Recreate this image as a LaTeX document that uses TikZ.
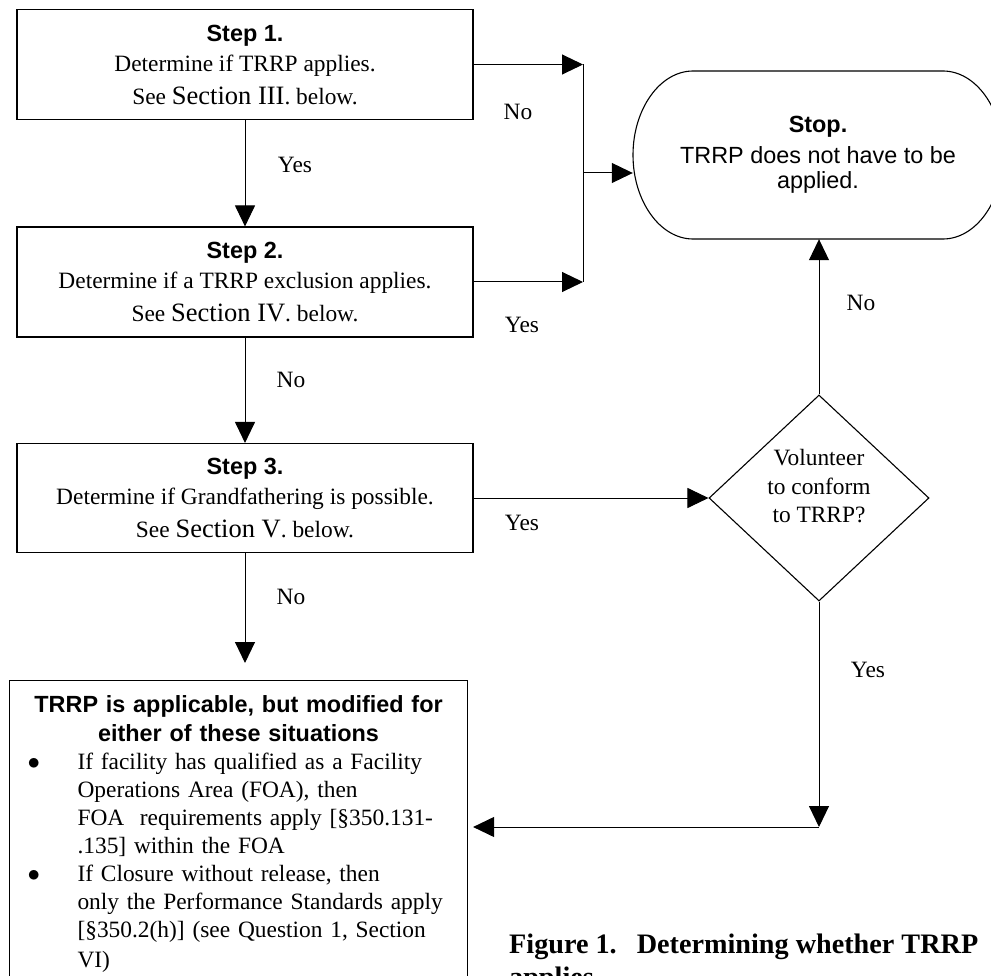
\documentclass[tikz,border=0pt]{standalone}
\usepackage{fontspec}
\setmainfont{Liberation Serif}
\setsansfont{Liberation Sans}
\usetikzlibrary{calc,positioning,arrows.meta,shapes.geometric}
\setlength{\parindent}{0pt}
\newlength{\stepwd}
\setlength{\stepwd}{456pt}
\newcommand{\bodyfont}{\fontsize{23.4}{30}\selectfont}
\newcommand{\secfont}{\fontsize{26.5}{30}\selectfont}
\newcommand{\itm}{\makebox[68pt][l]{\hspace*{18pt}$\bullet$}}
\newcommand{\cnt}{\hspace*{68pt}}
\tikzset{
  stepbox/.style={
    draw=black,
    line width=1.1pt,
    minimum width=\stepwd,
    minimum height=110pt,
    inner sep=0pt,
    align=center,
    font=\bodyfont
  },
  stopbox/.style={minimum width=370pt, minimum height=168pt, inner sep=0pt, align=center,
    font=\sffamily\fontsize{23.4}{25}\selectfont},
  decision/.style={diamond, draw=black, line width=1.1pt, minimum width=220pt, minimum height=206pt,
    inner sep=0pt, align=center, font=\fontsize{23.4}{28.5}\selectfont, text depth=24pt},
  finalbox/.style={draw=black, line width=1.1pt, text width=458pt, inner xsep=0pt, inner ysep=14.5pt,
    align=left, font=\bodyfont},
  capt/.style={font=\bfseries\fontsize{28.2}{32.5}\selectfont, align=left, inner sep=0pt},
  lbl/.style={font=\bodyfont, inner sep=0pt},
  flow/.style={line width=1pt, -{Triangle[length=21pt,width=20pt]}},
  wire/.style={line width=1pt},
}

\begin{document}
\begin{tikzpicture}[x=1pt, y=-1pt]
  \useasboundingbox (0,0) rectangle (991,976);
  \clip (0,0) rectangle (991,976);

  \node[stepbox] (s1) at (245,64.5) {{\sffamily\bfseries Step 1.}\\Determine if TRRP applies.\\[3pt]See {\secfont Section III}. below.};
  \node[stepbox] (s2) at (245,282) {{\sffamily\bfseries Step 2.}\\Determine if a TRRP exclusion applies.\\[3pt]See {\secfont Section IV}. below.};
  \node[stepbox, minimum height=109pt] (s3) at (245,498) {{\sffamily\bfseries Step 3.}\\Determine if Grandfathering is possible.\\[3pt]See {\secfont Section V}. below.};

  \node[stopbox] (stop) at (818,155) {{\bfseries Stop.}\\[6.5pt]TRRP does not have to be\\applied.};
  \draw[line width=1.1pt] (693,71) -- (943,71) .. controls (976,71) and (1003,109) .. (1003,155)
    .. controls (1003,201) and (976,239) .. (943,239) -- (693,239)
    .. controls (660,239) and (633,201) .. (633,155) .. controls (633,109) and (660,71) .. (693,71) -- cycle;

  \node[decision] (dia) at (819,498) {Volunteer\\to conform\\to TRRP?};

  \node[finalbox, anchor=north west] (final) at (9,680) {%
    {\centering\sffamily\bfseries\fontsize{23.4}{29}\selectfont TRRP is applicable, but modified for\\either of these situations\par}
    \fontsize{23.4}{28}\selectfont
    \itm If facility has qualified as a Facility\\
    \cnt Operations Area (FOA), then\\
    \cnt FOA\ \ requirements apply [§350.131-\\
    \cnt .135] within the FOA\\
    \itm If Closure without release, then\\
    \cnt only the Performance Standards apply\\
    \cnt [§350.2(h)] (see Question 1, Section\\
    \cnt VI)};

  \node[capt, anchor=north west] (cap) at (509,934) {Figure 1.\hspace{20pt}Determining whether TRRP\\applies};

  \node[lbl] (yes1) at (295,165) {Yes};
  \node[lbl] (no1) at (518,112) {No};
  \node[lbl] (yes2) at (522,325) {Yes};
  \node[lbl] (no2) at (291,380) {No};
  \node[lbl] (yes3) at (522,523) {Yes};
  \node[lbl] (no3) at (291,597) {No};
  \node[lbl] (no4) at (861,303) {No};
  \node[lbl] (yes4) at (868,670) {Yes};

  \coordinate (b1) at (583,64.5);
  \coordinate (b2) at (583,282);
  \coordinate (b3) at (583,173);
  \coordinate (corner) at (819,827);

  \draw[flow] (s1) -- (s2);
  \draw[flow] (s2) -- (s3);
  \draw[flow, shorten >=17pt] (s3.south) -- (s3.south |- final.north);
  \draw[flow] (s1.east) -- (b1);
  \draw[flow] (s2.east) -- (b2);
  \draw[wire] (b1) -- (b2);
  \draw[flow] (b3) -- (b3 -| stop.west);
  \draw[flow] (s3.east) -- (dia.west);
  \draw[flow] (dia.north) -- (dia.north |- stop.south);
  \draw[flow] (dia.south) -- (corner);
  \draw[flow, shorten >=5pt] (corner) -- (corner -| final.east);
\end{tikzpicture}
\end{document}
